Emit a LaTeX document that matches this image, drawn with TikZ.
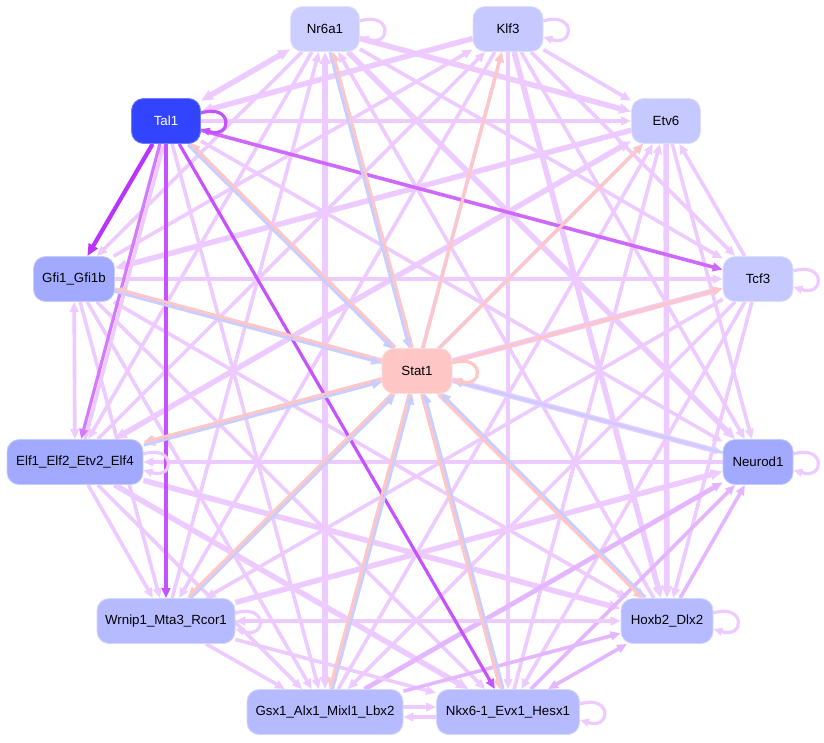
\documentclass[tikz,border=0pt]{standalone}
\usepackage{fontspec}
\setmainfont{Liberation Sans}
\usetikzlibrary{arrows.meta,calc}
\pgfdeclarelayer{bg}
\pgfsetlayers{bg,main}
\definecolor{edgeL}{RGB}{237,202,255}
\definecolor{edgeM}{RGB}{228,182,255}
\definecolor{edgeP}{RGB}{255,198,198}
\definecolor{edgeB}{RGB}{200,206,255}
\definecolor{purA}{RGB}{187,51,255}
\definecolor{purB}{RGB}{206,104,255}
\definecolor{purC}{RGB}{198,82,255}
\definecolor{purD}{RGB}{212,122,255}
\definecolor{cTal}{RGB}{51,68,255}
\definecolor{cDark}{RGB}{162,170,255}
\definecolor{cMid}{RGB}{182,187,255}
\definecolor{cLight}{RGB}{198,201,255}
\definecolor{cNr}{RGB}{204,206,255}
\definecolor{cStat}{RGB}{255,198,198}
\begin{document}
\begin{tikzpicture}[x=1pt,y=-1pt,
  nd/.style={rounded corners=12pt, minimum height=45pt, inner sep=0pt,
    font=\fontsize{13.3}{15}\selectfont, line width=0.8pt},
  tipn/.style={-{Triangle[length=10pt,width=8.5pt]}},
  Elt/.style={draw=edgeL, line width=3.6pt, tipn},
  Emd/.style={draw=edgeM, line width=3.6pt, tipn},
  Ethk/.style={draw=edgeL, line width=5.5pt, -{Triangle[length=12pt,width=10pt]}},
  Ebi/.style={draw=edgeL, line width=3.6pt, {Triangle[length=10pt,width=8.5pt]}-{Triangle[length=10pt,width=8.5pt]}},
  Etb/.style={draw=edgeL, line width=5.5pt, {Triangle[length=12pt,width=10pt]}-{Triangle[length=12pt,width=10pt]}},
  Epk/.style={draw=edgeP, line width=3pt, tipn},
  Ebl/.style={draw=edgeB, line width=2.6pt, tipn},
  Eloop/.style={draw=edgeL, line width=3.2pt, -{Triangle[length=9pt,width=7.5pt]}}]
\useasboundingbox (0,0) rectangle (824,742);
% nodes
\node[nd, fill=cNr, draw=cNr!60!white, minimum width=69pt] (nr) at (325,29) {Nr6a1};
\node[nd, fill=cLight, draw=cLight!60!white, minimum width=70pt] (klf) at (508,29) {Klf3};
\node[nd, fill=cTal, draw=cTal!70!white, text=white, minimum width=69pt] (tal) at (166,121) {Tal1};
\node[nd, fill=cLight, draw=cLight!60!white, minimum width=69pt] (etv) at (666,121) {Etv6};
\node[nd, fill=cDark, draw=cDark!60!white, minimum width=81pt] (gfi) at (74,279) {Gfi1\_Gfi1b};
\node[nd, fill=cLight, draw=cLight!60!white, minimum width=70pt] (tcf) at (758,279) {Tcf3};
\node[nd, fill=cStat, draw=cStat!60!white, minimum width=70pt] (stat) at (417,371) {Stat1};
\node[nd, fill=cDark, draw=cDark!60!white, minimum width=136pt] (elf) at (75,462) {Elf1\_Elf2\_Etv2\_Elf4};
\node[nd, fill=cDark, draw=cDark!60!white, minimum width=70pt] (neu) at (758,462) {Neurod1};
\node[nd, fill=cMid, draw=cMid!60!white, minimum width=138pt] (wrn) at (166,621) {Wrnip1\_Mta3\_Rcor1};
\node[nd, fill=cMid, draw=cMid!60!white, minimum width=92pt] (hox) at (667,621) {Hoxb2\_Dlx2};
\node[nd, fill=cMid, draw=cMid!60!white, minimum width=156pt] (gsx) at (325,712) {Gsx1\_Alx1\_Mixl1\_Lbx2};
\node[nd, fill=cMid, draw=cMid!60!white, minimum width=143pt] (nkx) at (508,712) {Nkx6-1\_Evx1\_Hesx1};
\begin{pgfonlayer}{bg}
% Nr6a1
\draw[Etb] (nr) -- (tal);
\draw[Ethk] (nr) -- (etv);
\draw[Elt] (nr) -- (gfi);
\draw[Elt] (nr) -- (tcf);
\draw[Elt] (nr) -- (elf);
\draw[Ethk] (nr) -- (neu);
\draw[Elt] (wrn) -- (nr);
\draw[Elt] (hox) -- (nr);
\draw[Etb] (gsx) -- (nr);
\draw[Elt] (nkx) -- (nr);
% Klf3
\draw[Ethk] (klf) -- (tal);
\draw[Elt] (klf) -- (etv);
\draw[Elt] (gfi) -- (klf);
\draw[Elt] (klf) -- (tcf);
\draw[Elt] (elf) -- (klf);
\draw[Elt] (klf) -- (neu);
\draw[Elt] (klf) -- (wrn);
\draw[Ethk] (klf) -- (hox);
\draw[Elt] (gsx) -- (klf);
\draw[Elt] (klf) -- (nkx);
% Tal1
\draw[Elt] (tal) -- (etv);
\draw[Elt] (tal) -- (gsx);
\draw[Elt] (tal) -- (hox);
\draw[Elt] (tal) -- (neu);
\draw[Elt, transform canvas={shift={(4,0)}}] (elf) -- (tal);
% Etv6
\draw[Ethk] (etv) -- (gfi);
\draw[Elt] (tcf) -- (etv);
\draw[Etb] (elf) -- (etv);
\draw[Elt] (etv) -- (neu);
\draw[Elt] (wrn) -- (etv);
\draw[Ethk] (etv) -- (hox);
\draw[Elt] (gsx) -- (etv);
\draw[Elt] (nkx) -- (etv);
% Gfi1
\draw[Ebi] (gfi) -- (elf);
\draw[Elt] (gfi) -- (tcf);
\draw[Ethk] (gfi) -- (neu);
\draw[Elt] (gfi) -- (wrn);
\draw[Elt] (gfi) -- (hox);
\draw[Elt] (gfi) -- (gsx);
\draw[Elt] (gfi) -- (nkx);
% Tcf3
\draw[Etb] (tcf) -- (elf);
\draw[Elt] (tcf) -- (wrn);
\draw[Elt] (tcf) -- (hox);
\draw[Elt] (tcf) -- (gsx);
\draw[Elt] (tcf) -- (nkx);
% Elf1
\draw[Elt] (neu) -- (elf);
\draw[Elt] (elf) -- (wrn);
\draw[Ethk] (elf) -- (hox);
\draw[Elt] (elf) -- (gsx);
\draw[Ethk] (elf) -- (nkx);
% Neurod1
\draw[Ethk] (wrn) -- (neu);
\draw[Emd] (hox) -- (neu);
\draw[Emd, line width=4.8pt] (gsx) -- (neu);
\draw[Emd] (nkx) -- (neu);
% Wrnip1
\draw[Ebi] (wrn) -- (hox);
\draw[Elt] (wrn) -- (gsx);
\draw[Elt] (wrn) -- (nkx);
% Hoxb2
\draw[Emd] (gsx) -- (hox);
\draw[Ebi, draw=edgeM] (nkx) -- (hox);
% Gsx1 - Nkx6
\draw[Elt, transform canvas={shift={(0,-5)}}] (gsx) -- (nkx);
\draw[Elt, transform canvas={shift={(0,5)}}] (nkx) -- (gsx);
% Tal1 purple edges
\draw[draw=purD, line width=3.2pt, tipn] (tal) -- (elf);
\draw[draw=purC, line width=3.2pt, tipn] (tal) -- (wrn);
\draw[draw=purC, line width=3.2pt, tipn] (tal) -- (nkx);
\draw[draw=purB, line width=3.6pt, tipn] (tal) -- (tcf);
\draw[draw=purA, line width=4.2pt, -{Triangle[length=12pt,width=10pt]}] (tal) -- (gfi);
% Stat1
\draw[Epk, transform canvas={shift={(1.06,-1.06)}}] (stat) -- (tal);
\draw[Ebl, transform canvas={shift={(-1.06,1.06)}}] (tal) -- (stat);
\draw[Epk, transform canvas={shift={(0.39,-1.45)}}] (stat) -- (gfi);
\draw[Ebl, transform canvas={shift={(-0.39,1.45)}}] (gfi) -- (stat);
\draw[Epk, transform canvas={shift={(-0.39,-1.45)}}] (stat) -- (elf);
\draw[Ebl, transform canvas={shift={(0.39,1.45)}}] (elf) -- (stat);
\draw[Epk, transform canvas={shift={(-1.06,-1.06)}}] (stat) -- (wrn);
\draw[Ebl, transform canvas={shift={(1.06,1.06)}}] (wrn) -- (stat);
\draw[Epk, transform canvas={shift={(-1.45,-0.39)}}] (stat) -- (gsx);
\draw[Ebl, transform canvas={shift={(1.45,0.39)}}] (gsx) -- (stat);
\draw[Epk, transform canvas={shift={(-1.45,0.39)}}] (stat) -- (nkx);
\draw[Ebl, transform canvas={shift={(1.45,-0.39)}}] (nkx) -- (stat);
\draw[Epk, transform canvas={shift={(-1.06,1.06)}}] (stat) -- (hox);
\draw[Ebl, transform canvas={shift={(1.06,-1.06)}}] (hox) -- (stat);
\draw[Epk, transform canvas={shift={(1.45,-0.39)}}] (stat) -- (nr);
\draw[Ebl, transform canvas={shift={(-1.45,0.39)}}] (nr) -- (stat);
\draw[Epk] (stat) -- (klf);
\draw[Epk] (stat) -- (etv);
\draw[Epk] (stat) -- (tcf);
\draw[Ebl] (neu) -- (stat);
% self loops
\draw[Eloop] ($(nr.east)+(0,-8)$) .. controls +(32,-10) and +(32,10) .. ($(nr.east)+(0,8)$);
\draw[Eloop] ($(klf.east)+(0,-8)$) .. controls +(32,-10) and +(32,10) .. ($(klf.east)+(0,8)$);
\draw[Eloop, draw=purC] ($(tal.east)+(0,-8)$) .. controls +(32,-10) and +(32,10) .. ($(tal.east)+(0,8)$);
\draw[Eloop] ($(tcf.east)+(0,-8)$) .. controls +(32,-10) and +(32,10) .. ($(tcf.east)+(0,8)$);
\draw[Eloop, draw=edgeP] ($(stat.east)+(0,-8)$) .. controls +(32,-10) and +(32,10) .. ($(stat.east)+(0,8)$);
\draw[Eloop] ($(elf.east)+(0,-8)$) .. controls +(32,-10) and +(32,10) .. ($(elf.east)+(0,8)$);
\draw[Eloop] ($(neu.east)+(0,-8)$) .. controls +(32,-10) and +(32,10) .. ($(neu.east)+(0,8)$);
\draw[Eloop] ($(wrn.east)+(0,-8)$) .. controls +(32,-10) and +(32,10) .. ($(wrn.east)+(0,8)$);
\draw[Eloop] ($(hox.east)+(0,-8)$) .. controls +(32,-10) and +(32,10) .. ($(hox.east)+(0,8)$);
\draw[Eloop] ($(nkx.east)+(0,-8)$) .. controls +(32,-10) and +(32,10) .. ($(nkx.east)+(0,8)$);
\end{pgfonlayer}
\end{tikzpicture}
\end{document}
